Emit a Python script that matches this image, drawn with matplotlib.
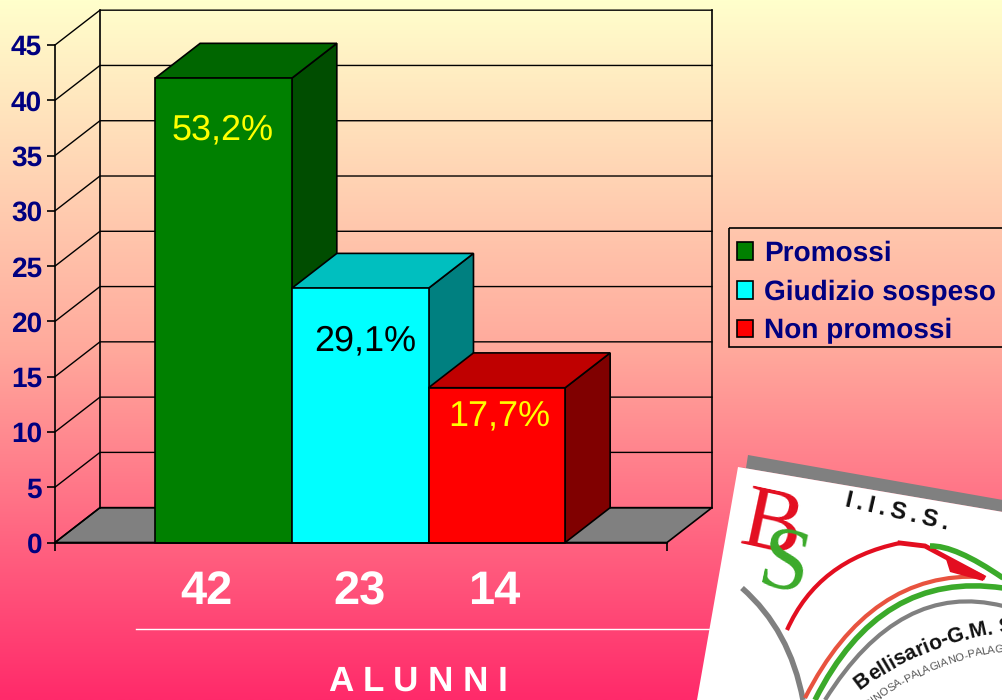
import numpy as np
import matplotlib
matplotlib.use('Agg')
import matplotlib.pyplot as plt
from matplotlib.colors import LinearSegmentedColormap
from matplotlib.patches import Polygon, PathPatch, Rectangle
from matplotlib.path import Path
from matplotlib.textpath import TextPath
from matplotlib.font_manager import FontProperties

# chart values
series_names = ['Promossi', 'Giudizio sospeso', 'Non promossi']
alunni = [42, 23, 14]
percent_labels = ['53,2%', '29,1%', '17,7%']
y_ticks = [0, 5, 10, 15, 20, 25, 30, 35, 40, 45]

# front, top and side colour of each bar
front_colors = ['#008000', '#00FFFF', '#FF0000']
top_colors = ['#006600', '#00BFBF', '#BF0000']
side_colors = ['#004D00', '#008080', '#800000']
percent_colors = ['#FFFF00', '#000000', '#FFFF00']
# where the percent label sits relative to the top middle of its bar
percent_dx = [-0.01, 0.04, 0.02]
percent_dy = [4.7, 4.75, 2.7]

NAVY = '#000080'
W, H = 1003, 700
plt.rcParams['font.family'] = ['Liberation Sans', 'DejaVu Sans']
plt.rcParams['text.hinting'] = 'none'
plt.rcParams['text.hinting_factor'] = 1

fig = plt.figure(figsize=(W / 100, H / 100), dpi=100)

# background in pixel coords, logo goes in here too
bg = fig.add_axes([0, 0, 1, 1], zorder=0)
bg.set_xlim(0, W)
bg.set_ylim(H, 0)
bg.axis('off')
grad = LinearSegmentedColormap.from_list('bg', ['#FFFFCC', '#FFA99C', '#FF2A6A'])
bg.imshow(np.linspace(0, 1, 256).reshape(-1, 1), cmap=grad, aspect='auto', extent=[0, W, H, 0])
bg.set_xlim(0, W)
bg.set_ylim(H, 0)
bg.plot([136, 720], [629, 629], color='#FFFFFF', lw=1)

# 3d box of the chart
ax = fig.add_axes([55 / W, 157.5 / H, 612 / W, 497.5 / H], zorder=1)
ax.patch.set_alpha(0)
ax.set_xlim(-1.233, 3.245)
ax.set_ylim(0, 45)
x0, x1 = ax.get_xlim()
dx, dy = 0.329, 3.15
bar_w = 1.0

ax.add_patch(Polygon([(x0, 0), (x0 + dx, dy), (x1 + dx, dy), (x1, 0)], closed=True,
                     fc='#808080', ec='black', lw=1.2, clip_on=False))
for v in y_ticks:
    ax.plot([x0, x0 + dx, x1 + dx], [v, v + dy, v + dy], color='black', lw=1, clip_on=False, zorder=1.5)
ax.plot([x0 + dx, x0 + dx], [dy, 45 + dy], color='black', lw=1.2, clip_on=False, zorder=1.5)
ax.plot([x1 + dx, x1 + dx], [dy, 45 + dy], color='black', lw=1.2, clip_on=False, zorder=1.5)

for i, v in enumerate(alunni):
    l, r = i - bar_w / 2, i + bar_w / 2
    ax.add_patch(Polygon([(r, 0), (r + dx, dy), (r + dx, v + dy), (r, v)], closed=True,
                         fc=side_colors[i], ec='black', lw=1.2, clip_on=False, zorder=2 + i))
    ax.add_patch(Polygon([(l, v), (l + dx, v + dy), (r + dx, v + dy), (r, v)], closed=True,
                         fc=top_colors[i], ec='black', lw=1.2, clip_on=False, zorder=2 + i))
    ax.bar(i, v, width=bar_w, color=front_colors[i], edgecolor='black', lw=1.2,
           label=series_names[i], clip_on=False, zorder=2.5 + i)
    ax.text(i + percent_dx[i], v - percent_dy[i], percent_labels[i], color=percent_colors[i], fontsize=25.6,
            ha='center', va='center', zorder=6)

for s in ['top', 'right']:
    ax.spines[s].set_visible(False)
for s in ['left', 'bottom']:
    ax.spines[s].set_linewidth(1.2)
    ax.spines[s].set_zorder(7)
ax.set_yticks(y_ticks)
ax.set_xticks([x0, x1])
ax.set_xticklabels([])
ax.tick_params(axis='both', length=5.8, width=1.2, pad=3.5)
for t in ax.get_yticklabels():
    t.set_fontsize(20)
    t.set_fontweight('bold')
    t.set_color(NAVY)

# the counts sit under the chart, not under the bars
for px, v in zip([206, 360, 494], alunni):
    bg.text(px, 592, str(v), color='white', fontsize=33.5, fontweight='bold', ha='center', va='center')
bg.text(418, 682, 'A L U N N I', color='white', fontsize=25, fontweight='bold', ha='center', va='center')

# legend box runs off the right edge, so the frame is drawn apart
bg.add_patch(Rectangle((729, 228), 290, 119, fc='none', ec='black', lw=1.2, zorder=2))
leg = ax.legend(bbox_to_anchor=(725 / W, (H - 229) / H), bbox_transform=fig.transFigure,
                loc='upper left', borderaxespad=0, prop={'size': 20.25, 'weight': 'bold'},
                handlelength=0.58, handleheight=0.58, handletextpad=0.38, labelspacing=0.45,
                borderpad=0.42, frameon=False, labelcolor=NAVY)
leg.set_zorder(8)

# logo on a tilted white sheet
bg.add_patch(Polygon([(748, 455), (1003, 500), (1003, 512), (738, 467), (746, 468)], closed=True,
                     fc='#808080', ec='none', zorder=3))
bg.add_patch(Polygon([(738, 467), (1003, 512), (1003, 700), (697, 700)], closed=True,
                     fc='white', ec='none', zorder=3))


def curve(pts, color, lw):
    codes = [Path.MOVETO] + [Path.CURVE3] * (len(pts) - 1)
    bg.add_patch(PathPatch(Path(pts, codes), fc='none', ec=color, lw=lw, zorder=4, capstyle='butt'))


RED = '#E30E20'
GREEN = '#3BAA2A'
curve([(742, 588), (790, 630), (803, 700)], '#808080', 4)
curve([(983, 577), (870, 570), (805, 698)], '#E8533F', 3)
curve([(787, 630), (818, 560), (900, 543)], RED, 3)
bg.plot([900, 925, 983], [543, 546, 577], color=RED, lw=3.5, zorder=4, solid_joinstyle='miter')
bg.add_patch(Polygon([(945, 556), (984, 575), (983, 581), (950, 572)], closed=True, fc=RED, ec='none', zorder=4))
curve([(930, 546), (955, 545), (1003, 578)], GREEN, 4)
curve([(1003, 588), (880, 570), (815, 700)], GREEN, 4)
curve([(1003, 606), (900, 580), (825, 700)], '#808080', 3)

bg.text(771, 529, 'B', color=RED, fontsize=65, family='Liberation Serif', rotation=-12,
        ha='center', va='center', zorder=5)
bg.text(784, 568, 'S', color=GREEN, fontsize=65, family='Liberation Serif', rotation=-12,
        ha='center', va='center', zorder=5)
bg.text(897, 513, 'I\u2009.\u2009I\u2009.\u2009S\u2009.\u2009S\u2009.', color='#111111', fontsize=17,
        fontweight='bold', rotation=-13, ha='center', va='center', zorder=5)


def arc_text(s, start_deg, radius, size, weight, color):
    # letters laid along a circle round the logo centre
    cx, cy = 1040, 930
    prop = FontProperties(family='Liberation Sans', weight=weight, size=size)
    bar = TextPath((0, 0), '|', prop=prop).get_extents().x0
    for k, ch in enumerate(s):
        if ch == ' ':
            continue
        adv = TextPath((0, 0), s[:k] + '|', prop=prop).get_extents().x1 - 2 * bar if k else 0
        a = np.radians(start_deg - np.degrees(adv * 100 / 72 / radius))
        bg.text(cx - radius * np.sin(a), cy - radius * np.cos(a), ch, color=color, fontsize=size,
                fontweight=weight, rotation=np.degrees(a), rotation_mode='anchor',
                ha='left', va='baseline', zorder=5)


arc_text('Bellisario-G.M. S', 37, 300, 15, 'bold', '#111111')
arc_text('GINOSA-PALAGIANO-PALAG', 38, 281, 8, 'normal', '#555555')

fig.savefig('out.png', dpi=100)
